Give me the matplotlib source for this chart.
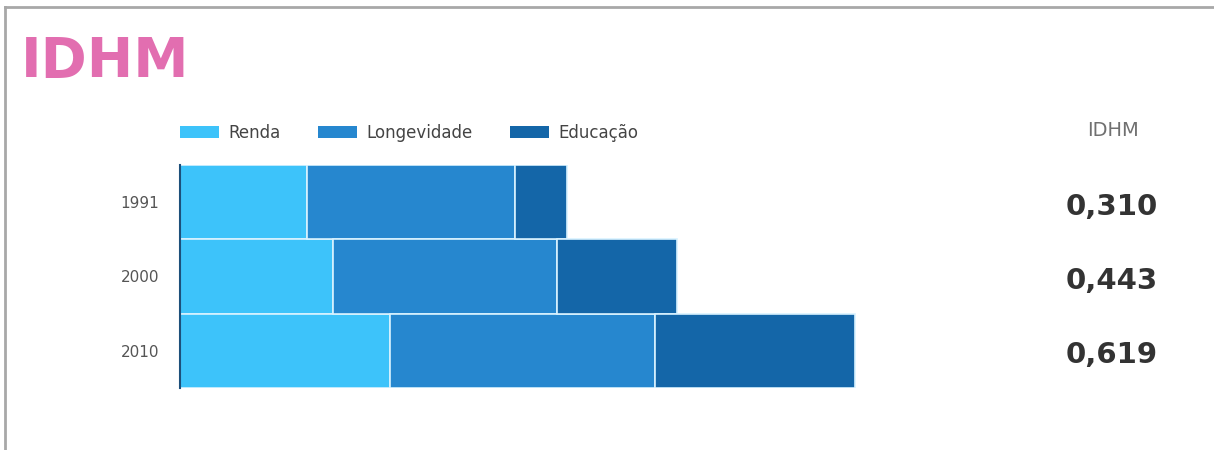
import matplotlib.pyplot as plt
from matplotlib.lines import Line2D

# Data (bar widths, in index units)
years = ['1991', '2000', '2010']
renda = [0.384, 0.462, 0.634]
longevidade = [0.628, 0.677, 0.801]
educacao = [0.157, 0.363, 0.607]
idhm = ['0,310', '0,443', '0,619']

series_names = ['Renda', 'Longevidade', 'Educação']
colors = ['#3DC3FA', '#2687CF', '#1466A8']

fig = plt.figure(figsize=(12.14, 4.5), dpi=100)

# light grey frame (top and left only, as in the reference)
fig.add_artist(Line2D([0.004, 0.004], [0.0, 0.985], transform=fig.transFigure,
                      color='#a8a8a8', lw=2))
fig.add_artist(Line2D([0.004, 1.0], [0.985, 0.985], transform=fig.transFigure,
                      color='#a8a8a8', lw=2))

fig.text(0.017, 0.862, 'IDHM', fontsize=40, fontweight='heavy',
         color='#E26EB0', va='center', ha='left')

ax = fig.add_axes([180 / 1214, 62 / 450, 827 / 1214, 223 / 450])

y = range(len(years))
left = [0, 0, 0]
for name, vals, c in zip(series_names, [renda, longevidade, educacao], colors):
    ax.barh(y, vals, left=left, height=1.0, color=c, edgecolor='#d8f2ff',
            linewidth=1.2, label=name)
    left = [l + v for l, v in zip(left, vals)]

ax.set_xlim(0, 2.5)
ax.set_ylim(2.5, -0.5)
ax.set_yticks(list(y))
ax.set_yticklabels(years, fontsize=11, color='#555555')
ax.tick_params(axis='y', length=0, pad=15)
ax.set_xticks([])
for s in ['top', 'right', 'bottom']:
    ax.spines[s].set_visible(False)
ax.spines['left'].set_color('#1d4f7a')
ax.spines['left'].set_linewidth(1.5)

leg = ax.legend(ncol=3, loc='lower left', bbox_to_anchor=(-0.008, 1.075),
                frameon=False, fontsize=12, handlelength=2.35, handleheight=0.72,
                columnspacing=2.25, handletextpad=0.55, borderaxespad=0)
for t in leg.get_texts():
    t.set_color('#444444')
for h in leg.legend_handles:
    h.set_edgecolor('none')

# IDHM column on the right
fig.text(1113 / 1214, 1 - 131 / 450, 'IDHM', fontsize=14, color='#707070',
         ha='center', va='center')
trans = ax.get_yaxis_transform()
for i, v in enumerate(idhm):
    ax.text(1.127, i + 0.06, v, transform=trans, fontsize=21, fontweight='bold',
            color='#333333', ha='center', va='center', clip_on=False)

fig.savefig('out.png', dpi=100)
